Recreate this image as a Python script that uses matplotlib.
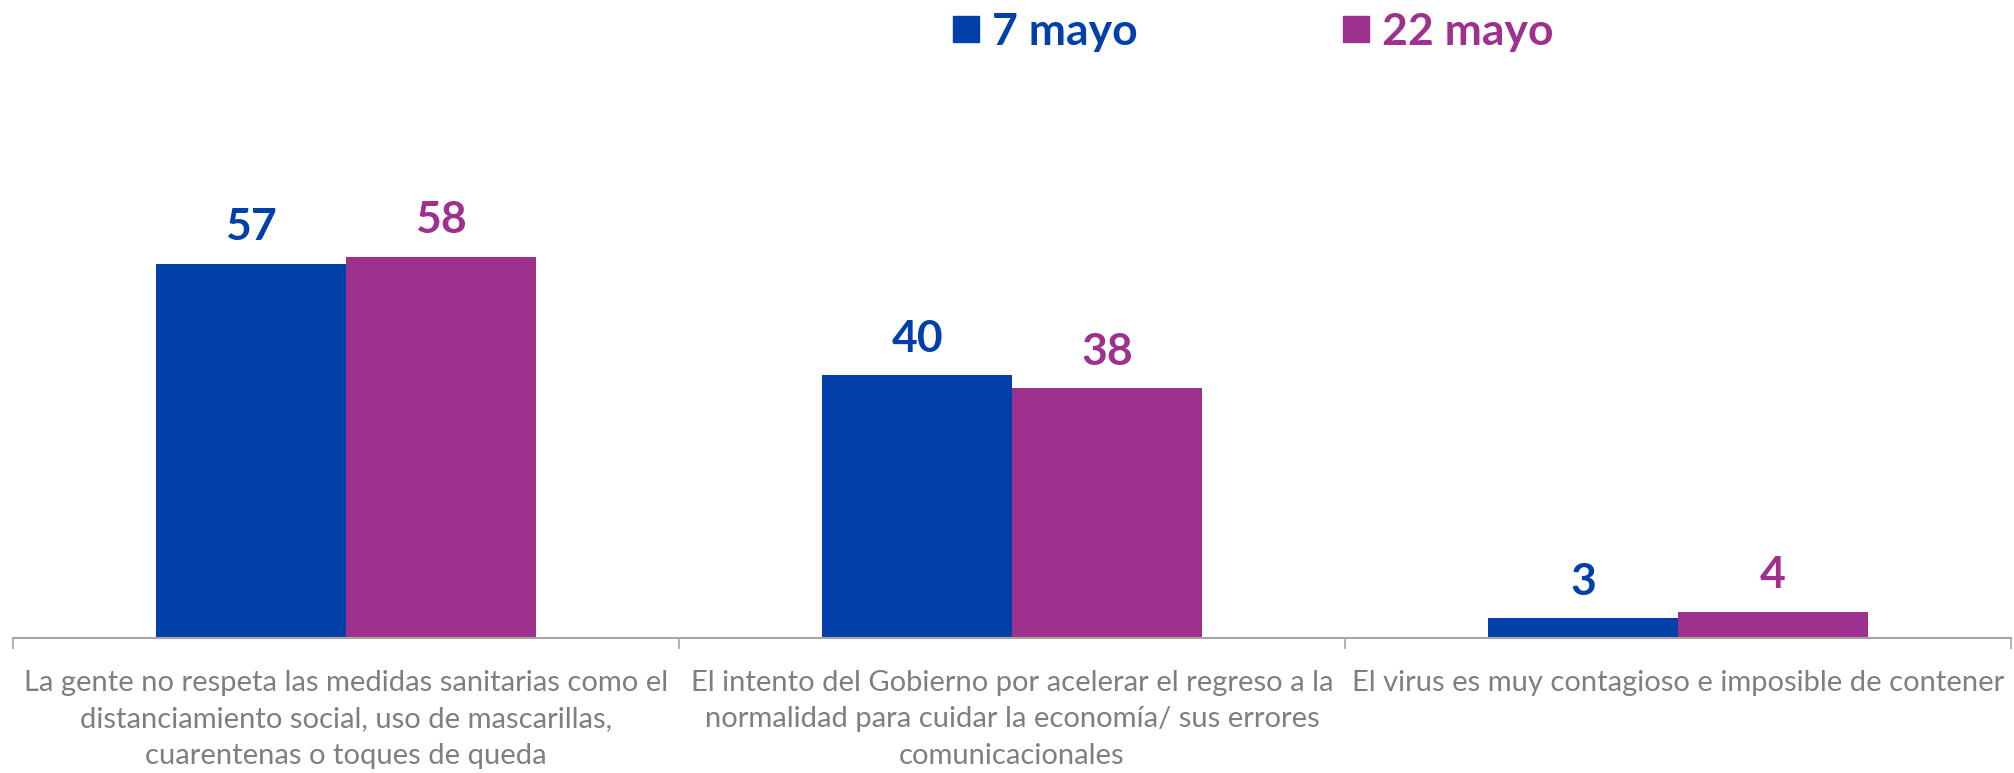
import matplotlib
matplotlib.use("Agg")
import matplotlib.pyplot as plt
from matplotlib.lines import Line2D
import numpy as np

categories = [
    "La gente no respeta las medidas sanitarias como el\ndistanciamiento social, uso de mascarillas,\ncuarentenas o toques de queda",
    "El intento del Gobierno por acelerar el regreso a la\nnormalidad para cuidar la economía/ sus errores\ncomunicacionales",
    "El virus es muy contagioso e imposible de contener",
]
series_names = ["7 mayo", "22 mayo"]
values_7 = [57, 40, 3]
values_22 = [58, 38, 4]

blue = "#0040A8"
magenta = "#9E308E"
gray_text = "#7F7F7F"

plt.rcParams["font.family"] = ["Lato", "DejaVu Sans"]

fig = plt.figure(figsize=(20.15, 7.73), dpi=100)
ax = fig.add_axes([13 / 2015, (773 - 638) / 773, 1998 / 2015, 578 / 773])

x = np.arange(len(categories))
w = 0.285
bars1 = ax.bar(x - w / 2, values_7, w, color=blue)
bars2 = ax.bar(x + w / 2, values_22, w, color=magenta)

# value labels above each bar
for bars, col in [(bars1, blue), (bars2, magenta)]:
    for b in bars:
        ax.annotate(f"{b.get_height():.0f}", (b.get_x() + b.get_width() / 2, b.get_height()),
                    xytext=(0, 17), textcoords="offset points", ha="center", va="baseline",
                    fontsize=32, fontweight="bold", color=col)

ax.set_xlim(-0.5, len(categories) - 0.5)
ax.set_ylim(0, 88)
ax.set_yticks([])
for s in ["top", "right", "left"]:
    ax.spines[s].set_visible(False)
ax.spines["bottom"].set_color("#A6A6A6")
ax.spines["bottom"].set_linewidth(1.5)

ax.set_xticks(x)
ax.set_xticklabels(categories, fontsize=21, color=gray_text, linespacing=1.5, va="top")
ax.tick_params(axis="x", which="major", length=0, pad=23)
ax.set_xticks(np.arange(len(categories) + 1) - 0.5, minor=True)
ax.tick_params(axis="x", which="minor", length=8, color="#A6A6A6", width=1.2)

handles = [Line2D([], [], marker="s", linestyle="none", markersize=19, color=c) for c in [blue, magenta]]
leg = fig.legend(handles, series_names, loc="center", bbox_to_anchor=(1253 / 2015, 1 - 32 / 773),
                 ncol=2, frameon=False, handlelength=0.6, handletextpad=0.3,
                 columnspacing=4.6, prop={"weight": "bold", "size": 32})
for t, c in zip(leg.get_texts(), [blue, magenta]):
    t.set_color(c)

fig.savefig("out.png", dpi=100)
